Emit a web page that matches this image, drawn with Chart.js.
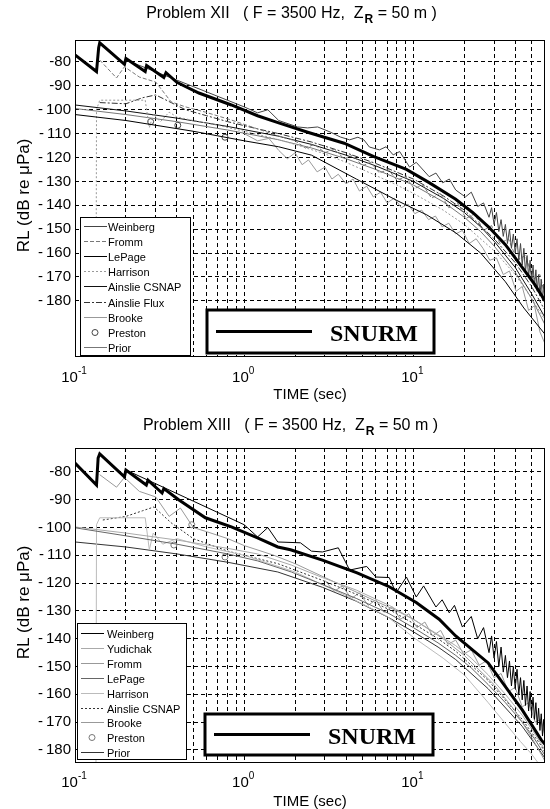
<!DOCTYPE html>
<html>
<head>
<meta charset="utf-8">
<script src="https://cdn.jsdelivr.net/npm/chart.js@4.4.1/dist/chart.umd.min.js"></script>
<style>
  html, body { margin: 0; padding: 0; background: #fff; }
  #wrap { position: relative; width: 550px; height: 809px; }
  canvas { position: absolute; left: 0; }
  #c12 { top: 0; }
  #c13 { top: 410px; }
</style>
</head>
<body>
<div id="wrap">
  <canvas id="c12" width="550" height="410"></canvas>
  <canvas id="c13" width="550" height="399"></canvas>
</div>
<script>
// axis ticks
const rlTicks = [-80, -90, -100, -110, -120, -130, -140, -150, -160, -170, -180];
const timeGrid = [0.2, 0.3, 0.4, 0.5, 0.6, 0.7, 0.8, 0.9, 1, 2, 3, 4, 5, 6, 7, 8, 9, 10, 20, 30, 40, 50];
const timeExps = [-1, 0, 1];

// ---- Problem XII ----
const snurm12_t = [0.1, 0.134, 0.138, 0.14, 0.196, 0.2, 0.26, 0.265, 0.335, 0.345, 0.4, 0.54, 0.84, 1.2, 1.6, 2.4, 3.9, 5.8, 9.1, 12.4, 17.8, 22.4, 27.8, 35, 44, 52, 60];
const snurm12_rl = [-77, -84, -74, -72, -81, -78.5, -84, -81.5, -86.5, -84.5, -88.5, -93, -98, -102.5, -105.5, -109.5, -114, -119.5, -125, -130.5, -137.5, -143, -149, -156.5, -166, -173, -180];

const weinberg12_t = [0.2, 0.5, 1.0, 1.2, 1.38, 1.6, 2.07, 2.37, 2.72, 3.22, 3.7, 4.2, 4.7, 5.1, 5.5, 6.3, 6.9, 7.6, 8.3, 9.5, 10.4, 12.4, 13.6, 14.9, 16.3, 17.8, 20.3, 22, 24, 26, 28, 29, 30, 31, 32, 33, 34, 35, 36, 37, 38, 39, 40, 41, 42, 43, 44, 45, 46, 47, 48, 49, 50, 51, 52, 53, 54, 55, 56, 57, 58, 59, 60];
const weinberg12_rl = [-79.2, -90.3, -98.8, -101.3, -100, -104.5, -107.2, -107.6, -107.2, -109.3, -111.4, -112.6, -111.5, -112.6, -115.6, -116.8, -115.5, -118.9, -117.5, -124, -122, -128, -126.5, -130.6, -129, -133.6, -136.5, -134.5, -140.5, -139, -145, -141, -148, -143, -151, -146, -153, -148, -156, -150, -158, -152, -160, -154, -163, -156, -165, -158, -168, -161, -170, -163, -172, -165, -174, -167, -176, -169, -178, -171, -180, -173, -176];

const fromm12_t = [0.14, 0.176, 0.196, 0.24, 0.3, 0.37, 0.45, 0.59, 0.84, 1.2, 1.6, 2.0, 2.3, 2.6, 3.0, 3.4, 3.9, 4.4, 5.0, 5.6, 6.3, 7.1, 8.0, 9.0, 10.1, 11.4, 12.8, 14.4, 16.2, 18.2, 20.5, 23, 26, 29, 32.5, 36.5, 41, 46, 51, 56, 60];
const fromm12_rl = [-79.2, -86.7, -82, -86.3, -88.4, -96.7, -98.8, -101, -104.3, -108, -111, -113, -116, -114.5, -118, -116.5, -120.5, -119, -123.5, -122, -126.5, -125, -129.5, -128, -133, -131.5, -137, -135, -141, -139, -145.5, -143.5, -150.5, -148.5, -156, -154, -163, -161, -171, -169, -178];

const lepage12_t = [0.1, 0.2, 0.5, 1, 1.6, 2.5, 4.6, 8, 12, 17.8, 25, 35, 45, 60];
const lepage12_rl = [-102, -104.5, -109, -113, -115.5, -119, -129, -138, -144, -151.5, -160, -172, -183, -194];

const harrison12_t = [0.133, 0.134, 0.14, 0.2, 0.26, 0.275, 0.29, 0.32, 0.36, 0.4, 0.5, 0.7, 1, 1.5, 2, 3, 4, 6, 8, 10, 15, 20, 30, 40, 50, 60];
const harrison12_rl = [-204, -100, -96, -96, -96, -107.5, -102, -105, -101, -103, -104.5, -106.5, -109, -112, -114.5, -118.5, -122, -127.5, -131.5, -135, -142, -148, -159, -169, -179, -188];

const csnap12_t = [0.1, 0.2, 0.4, 0.8, 1.58, 2.5, 4, 6, 10, 15, 20, 25, 30, 40, 50, 60];
const csnap12_rl = [-98, -100.5, -103.5, -107, -111, -114.5, -119, -123.5, -130, -137, -143, -149, -155, -166, -177, -187];

const flux12_t = [0.14, 0.2, 0.25, 0.3, 0.37, 0.45, 0.6, 0.8, 1.2, 1.6, 2.5, 4, 6, 10, 15, 20, 30, 40, 50, 60];
const flux12_rl = [-97, -97.5, -95, -93.8, -97, -100, -102.5, -105, -108, -110, -113.5, -118, -122.5, -129, -136, -142, -154, -164, -174, -184];

const brooke12_t = [1.0, 1.2, 1.4, 1.6, 1.8, 2.0, 2.2, 2.4, 2.7, 3.0, 3.3, 3.6, 4.0, 4.4, 4.8, 5.3, 5.8, 6.4, 7.0, 7.7, 8.5, 9.3, 10.2, 11.2, 12.3, 13.5, 14.8, 16.2, 17.8, 19.5, 21.4, 23.5, 25.8, 28.3, 31, 34, 37, 40.5, 44, 48, 52, 56, 60];
const brooke12_rl = [-110, -113, -112, -117, -120.5, -118, -123, -121, -126, -124, -129, -127, -131, -129, -134, -132, -136.5, -134.5, -139, -137, -141, -139.5, -143.5, -142, -146, -144.5, -149, -147.5, -152, -150.5, -156, -154, -158, -163, -162, -169, -167.5, -176, -174, -184, -182, -193, -198];

const preston12_t = [0.28, 0.405, 0.77];
const preston12_rl = [-105, -106.5, -111.5];

const prior12_t = [0.1, 0.1005, 0.2, 0.4, 0.8, 1.58, 2.5, 4, 6, 10, 15, 20, 25, 30, 40, 50, 60];
const prior12_rl = [-204, -99.5, -102, -105, -108.5, -112.5, -116, -120.5, -125, -131.5, -138.5, -145, -151, -157, -168, -179, -190];

// ---- Problem XIII ----
const snurm13_t = [0.1, 0.134, 0.137, 0.14, 0.196, 0.2, 0.264, 0.27, 0.327, 0.335, 0.41, 0.59, 0.84, 1.2, 1.58, 1.88, 2.9, 4.65, 7.2, 10.4, 14.2, 17.8, 27.7, 44, 57, 60];
const snurm13_rl = [-76.8, -84.7, -75, -73.5, -81.8, -79.3, -84.7, -83, -87.6, -86, -90, -96.5, -99.8, -103.7, -107, -108, -111.7, -116.3, -121.3, -127, -133, -139, -148.7, -165.6, -176.4, -178];

const weinberg13_t = [0.2, 0.5, 1.0, 1.2, 1.38, 1.58, 2.15, 2.5, 2.9, 3.6, 4.2, 5.3, 6.0, 7.2, 7.9, 9.1, 10.4, 11.5, 13.6, 14.8, 16.3, 17.5, 19.5, 22, 24, 26, 28, 29, 30, 31, 32, 33, 34, 35, 36, 37, 38, 39, 40, 41, 42, 43, 44, 45, 46, 47, 48, 49, 50, 51, 52, 53, 54, 55, 56, 57, 58, 59, 60];
const weinberg13_rl = [-79.3, -90.5, -99, -103.4, -100, -105.2, -105.5, -108.5, -108.8, -107.3, -115.3, -114, -117.8, -118, -123.5, -117.8, -125, -121, -128.6, -126, -130.7, -128, -135.8, -132, -140, -136, -145, -139, -147, -141, -150, -143, -152, -146, -154, -148, -157, -150, -158, -151, -160, -154, -162, -155, -164, -157, -166, -159, -167, -161, -169, -163, -171, -165, -173, -167, -175, -169, -176];

const yudichak13_t = [0.1, 0.2, 0.4, 0.8, 1.2, 1.9, 2.9, 4.6, 7.2, 10, 14, 17.8, 22, 27.7, 35, 44, 52, 60];
const yudichak13_rl = [-99.8, -102, -104.5, -107.5, -109.5, -113.5, -118, -122.5, -128, -133, -138.5, -142.5, -147, -153, -160, -167.5, -174, -180];

const fromm13_t = [0.14, 0.176, 0.196, 0.24, 0.3, 0.36, 0.42, 0.5, 0.6, 0.8, 1.0, 1.5, 2, 3, 4, 6, 8, 10, 15, 20, 30, 40, 50, 60];
const fromm13_rl = [-81, -85.5, -82, -87, -89, -96, -93, -100, -101.5, -104, -106.5, -110, -113, -118, -121.5, -126.5, -130, -133, -140, -146, -156.5, -166, -175.5, -184];

const lepage13_t = [0.1, 0.1002, 0.2, 0.4, 0.8, 1.2, 1.9, 2.9, 4.6, 7.2, 10, 14, 17.8, 22, 27.7, 35, 44, 52, 60];
const lepage13_rl = [-160, -100.1, -103, -106, -109.5, -112, -116, -120.5, -125.5, -131, -136, -141.5, -146, -150.5, -156.5, -163, -170, -176, -182];

const harrison13_t = [0.133, 0.134, 0.14, 0.2, 0.26, 0.275, 0.29, 0.33, 0.4, 0.6, 1, 2, 4, 7, 10, 15, 20, 27.7, 35, 43, 50, 60];
const harrison13_rl = [-190, -99, -96.5, -96.5, -96.5, -108, -102, -106, -104, -107, -110, -116, -124.5, -132, -139.5, -147, -153, -163, -170.5, -177, -181.5, -188];

const csnap13_t = [0.146, 0.2, 0.25, 0.293, 0.37, 0.5, 0.8, 1.58, 2.9, 4.6, 7.2, 10, 14, 17.8, 27.7, 44, 57, 60];
const csnap13_rl = [-97.3, -96, -94, -92.6, -98.3, -104, -108.5, -113, -119, -124, -129.5, -134.5, -140, -144.5, -155, -169, -178.5, -181];

const brooke13_t = [3, 3.4, 3.8, 4.3, 4.8, 5.4, 6, 6.7, 7.5, 8.4, 9.4, 10.5, 11.7, 13, 14.5, 16, 17.8, 19.8, 22, 24.5, 27, 30, 33, 36.5, 40, 44, 48, 52.5, 57, 60];
const brooke13_rl = [-119, -123, -121, -125.5, -123.5, -128, -126, -130.5, -128.5, -133, -131, -136, -134, -139, -137, -142, -140.5, -145.5, -144, -149.5, -148, -154, -152.5, -159, -157.5, -164.5, -163, -170, -169, -175];

const preston13_t = [0.384, 0.49, 0.77];
const preston13_rl = [-106.3, -99, -110.6];

const prior13_t = [0.1, 0.2, 0.4, 0.8, 1.58, 2.9, 4.6, 7.2, 10, 14, 17.8, 27.7, 44, 57, 60];
const prior13_rl = [-105.2, -107, -109.5, -112.5, -116, -121.5, -126.5, -132.5, -137.5, -143, -147.5, -158, -171.5, -181, -183];

const legend12 = ['Weinberg', 'Fromm', 'LePage', 'Harrison', 'Ainslie CSNAP', 'Ainslie Flux', 'Brooke', 'Preston', 'Prior'];
const legend13 = ['Weinberg', 'Yudichak', 'Fromm', 'LePage', 'Harrison', 'Ainslie CSNAP', 'Brooke', 'Preston', 'Prior'];

const FONT = '"Liberation Sans", Arial, sans-serif';

function pts(t, rl) {
  return t.map((x, i) => ({ x: x, y: rl[i] }));
}

function line(label, t, rl, color, width, dash) {
  return {
    label: label, data: pts(t, rl), borderColor: color, borderWidth: width,
    borderDash: dash || [], pointRadius: 0, tension: 0, fill: false
  };
}

function marks(label, t, rl, color) {
  return {
    label: label, data: pts(t, rl), showLine: false, borderColor: color,
    backgroundColor: 'rgba(0,0,0,0)', borderWidth: 1, pointRadius: 3, pointStyle: 'circle'
  };
}

// frame, title, legend boxes and log tick labels
const decor = {
  id: 'decor',
  afterDraw(chart, args, o) {
    const ctx = chart.ctx;
    const a = chart.chartArea;
    const xs = chart.scales.x;
    ctx.save();
    ctx.setLineDash([]);
    ctx.strokeStyle = '#000';
    ctx.lineWidth = 1;
    ctx.strokeRect(a.left + 0.5, a.top + 0.5, a.right - a.left - 1, a.bottom - a.top - 1);

    // title with subscript
    ctx.fillStyle = '#000';
    ctx.textAlign = 'left';
    ctx.textBaseline = 'alphabetic';
    const head = 'Problem ' + o.problem + '   ( F = 3500 Hz,  Z';
    const tail = ' = 50 m )';
    ctx.font = '16px ' + FONT;
    const w1 = ctx.measureText(head).width;
    const w3 = ctx.measureText(tail).width;
    ctx.font = 'bold 12px ' + FONT;
    const w2 = ctx.measureText('R').width;
    let x = o.titleX - (w1 + w2 + w3) / 2;
    ctx.font = '16px ' + FONT;
    ctx.fillText(head, x, o.titleY);
    ctx.font = 'bold 12px ' + FONT;
    ctx.fillText('R', x + w1 + 1, o.titleY + 5);
    ctx.font = '16px ' + FONT;
    ctx.fillText(tail, x + w1 + w2 + 1, o.titleY);

    // x tick labels as powers of ten
    timeExps.forEach(e => {
      const px = xs.getPixelForValue(Math.pow(10, e));
      ctx.font = '15px ' + FONT;
      const wb = ctx.measureText('10').width;
      ctx.font = '10px ' + FONT;
      const we = ctx.measureText(String(e)).width;
      const x0 = px - (wb + we) / 2 - 1;
      ctx.font = '15px ' + FONT;
      ctx.fillText('10', x0, o.tickY);
      ctx.font = '10px ' + FONT;
      ctx.fillText(String(e), x0 + wb, o.tickY - 8);
    });

    // axis titles
    ctx.font = '15px ' + FONT;
    ctx.textAlign = 'center';
    ctx.fillText('TIME (sec)', (a.left + a.right) / 2, o.xTitleY);
    ctx.save();
    ctx.translate(23, (a.top + a.bottom) / 2 - 3);
    ctx.rotate(-Math.PI / 2);
    ctx.font = '17px ' + FONT;
    ctx.fillText('RL (dB re \u03BCPa)', 0, 6);
    ctx.restore();

    // model legend
    const L = o.legend;
    ctx.fillStyle = '#fff';
    ctx.fillRect(L.x, L.y, L.w, L.h);
    ctx.strokeStyle = '#000';
    ctx.strokeRect(L.x + 0.5, L.y + 0.5, L.w, L.h);
    ctx.textAlign = 'left';
    ctx.font = '11px ' + FONT;
    L.names.forEach((name, i) => {
      const ds = chart.data.datasets.find(d => d.label === name);
      const y = Math.round(L.y + L.first + i * L.step) + 0.5;
      ctx.strokeStyle = ds.borderColor;
      ctx.lineWidth = 1;
      if (ds.showLine === false) {
        ctx.setLineDash([]);
        ctx.beginPath();
        ctx.arc(L.x + 15, y, 3, 0, Math.PI * 2);
        ctx.stroke();
      } else {
        ctx.setLineDash(ds.borderDash);
        ctx.beginPath();
        ctx.moveTo(L.x + 4, y);
        ctx.lineTo(L.x + 27, y);
        ctx.stroke();
      }
      ctx.setLineDash([]);
      ctx.fillStyle = '#000';
      ctx.fillText(name, L.x + L.textDx, y + 4);
    });

    // SNURM legend
    const S = o.snurm;
    ctx.fillStyle = '#fff';
    ctx.fillRect(S.x, S.y, S.w, S.h);
    ctx.strokeStyle = '#000';
    ctx.lineWidth = 3;
    ctx.strokeRect(S.x, S.y, S.w, S.h);
    ctx.beginPath();
    ctx.moveTo(S.x + 9, S.y + S.h / 2);
    ctx.lineTo(S.x + 105, S.y + S.h / 2);
    ctx.stroke();
    ctx.fillStyle = '#000';
    ctx.font = 'bold 24px "Liberation Serif", "Times New Roman", serif';
    ctx.fillText('SNURM', S.x + 123, S.y + S.h / 2 + 9);
    ctx.restore();
  }
};

function scalesFor(rlMin, rlMax, xHeight) {
  const grid = { color: '#000', lineWidth: 1, drawTicks: false };
  const border = { display: false, dash: [4, 3] };
  return {
    x: {
      type: 'logarithmic', min: 0.1, max: 60,
      afterBuildTicks: s => { s.ticks = timeGrid.map(v => ({ value: v })); },
      afterFit: s => { s.height = xHeight; },
      ticks: { display: false },
      grid: grid, border: border
    },
    y: {
      type: 'linear', min: rlMin, max: rlMax,
      afterBuildTicks: s => { s.ticks = rlTicks.map(v => ({ value: v })); },
      afterFit: s => { s.width = 75; },
      ticks: {
        color: '#000', padding: 4, font: { family: 'Liberation Sans', size: 15 },
        callback: v => (v <= -100 ? '-\u2009' + Math.abs(v) : String(v))
      },
      grid: grid, border: border
    }
  };
}

function makeChart(id, datasets, scales, padTop, deco) {
  return new Chart(document.getElementById(id), {
    type: 'line',
    data: { datasets: datasets },
    options: {
      responsive: false,
      animation: false,
      devicePixelRatio: 1,
      layout: { padding: { top: padTop, right: 2, left: 0, bottom: 0 } },
      scales: scales,
      plugins: { legend: { display: false }, tooltip: { enabled: false }, title: { display: false }, decor: deco }
    },
    plugins: [decor]
  });
}

makeChart('c12', [
  line('SNURM', snurm12_t, snurm12_rl, '#000', 3),
  line('Weinberg', weinberg12_t, weinberg12_rl, '#444', 1),
  line('Fromm', fromm12_t, fromm12_rl, '#777', 1, [4, 2]),
  line('LePage', lepage12_t, lepage12_rl, '#000', 1),
  line('Harrison', harrison12_t, harrison12_rl, '#999', 1, [2, 2]),
  line('Ainslie CSNAP', csnap12_t, csnap12_rl, '#111', 1),
  line('Ainslie Flux', flux12_t, flux12_rl, '#333', 1, [6, 2, 2, 2]),
  line('Brooke', brooke12_t, brooke12_rl, '#999', 1),
  marks('Preston', preston12_t, preston12_rl, '#444'),
  line('Prior', prior12_t, prior12_rl, '#777', 1)
], scalesFor(-203.5, -70.8, 53), 40, {
  problem: 'XII', titleX: 291, titleY: 18, tickY: 382, xTitleY: 399,
  legend: { names: legend12, x: 80, y: 217, w: 110, h: 138, first: 9, step: 15.1, textDx: 28 },
  snurm: { x: 207, y: 310, w: 227, h: 43 }
});

makeChart('c13', [
  line('SNURM', snurm13_t, snurm13_rl, '#000', 3),
  line('Weinberg', weinberg13_t, weinberg13_rl, '#000', 1),
  line('Yudichak', yudichak13_t, yudichak13_rl, '#aaa', 1),
  line('Fromm', fromm13_t, fromm13_rl, '#999', 1),
  line('LePage', lepage13_t, lepage13_rl, '#666', 1),
  line('Harrison', harrison13_t, harrison13_rl, '#bbb', 1),
  line('Ainslie CSNAP', csnap13_t, csnap13_rl, '#333', 1, [2, 2]),
  line('Brooke', brooke13_t, brooke13_rl, '#999', 1),
  marks('Preston', preston13_t, preston13_rl, '#777'),
  line('Prior', prior13_t, prior13_rl, '#333', 1)
], scalesFor(-184.7, -71.4, 46), 38, {
  problem: 'XIII', titleX: 290, titleY: 20, tickY: 377, xTitleY: 396,
  legend: { names: legend13, x: 77, y: 213, w: 109, h: 136, first: 10, step: 14.9, textDx: 30 },
  snurm: { x: 205, y: 304, w: 228, h: 41 }
});
</script>
</body>
</html>
